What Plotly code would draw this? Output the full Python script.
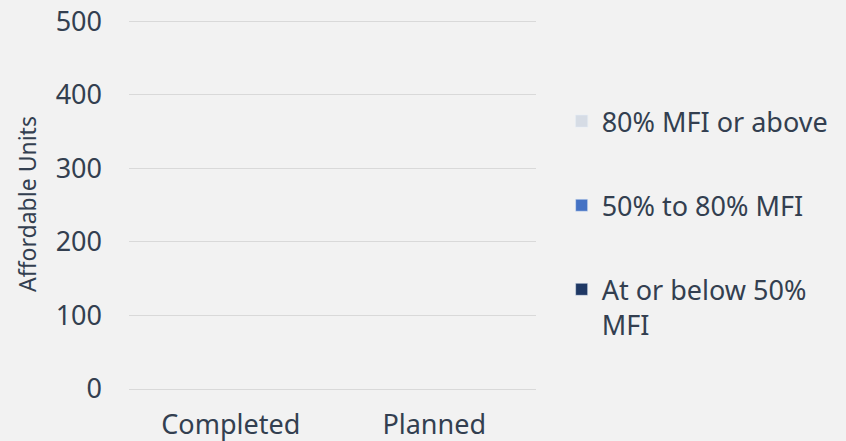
import plotly.graph_objects as go

categories = ["Completed", "Planned"]
series_names = ["At or below 50%<br>MFI", "50% to 80% MFI", "80% MFI or above"]
at_or_below_50 = [0, 0]
from_50_to_80 = [0, 0]
above_80 = [0, 0]
series_values = [at_or_below_50, from_50_to_80, above_80]
colors = ["#1f3864", "#4472c4", "#d6dce5"]
legend_ranks = [3, 2, 1]
y_ticks = [0, 100, 200, 300, 400, 500]

FONT = "Noto Sans"
TXT = "#333f50"
BG = "#f2f2f2"

fig = go.Figure()
for name, vals, col, rank in zip(series_names, series_values, colors, legend_ranks):
    fig.add_trace(go.Bar(x=categories, y=vals, name=name, marker_color=col,
                         legendgroup=name, legendrank=rank))

fig.update_layout(
    barmode="stack",
    width=846, height=441,
    margin=dict(l=129, r=308, t=19, b=52),
    paper_bgcolor=BG, plot_bgcolor=BG,
    font=dict(family=FONT, color=TXT, size=27),
    showlegend=True,
    legend=dict(x=1.063, xanchor="left", y=0.789, yanchor="top",
                traceorder="grouped", tracegroupgap=46, valign="top",
                font=dict(size=27, color=TXT), bgcolor="rgba(0,0,0,0)"),
)
fig.update_yaxes(range=[0, 503], tickvals=y_ticks, showgrid=True, gridcolor="#d9d9d9",
                 gridwidth=1, zeroline=False, showline=False, ticks="",
                 ticklabelstandoff=26, automargin=False,
                 title=dict(text="Affordable Units", font=dict(size=23, color=TXT), standoff=12),
                 tickfont=dict(size=27))
fig.update_xaxes(showline=True, linecolor="#d9d9d9", ticks="", tickfont=dict(size=27),
                 ticklabelstandoff=12, automargin=False)

fig.write_html("out.html", config={"displayModeBar": False},
               post_script="document.body.style.margin='0';document.body.style.background='%s';" % BG)
